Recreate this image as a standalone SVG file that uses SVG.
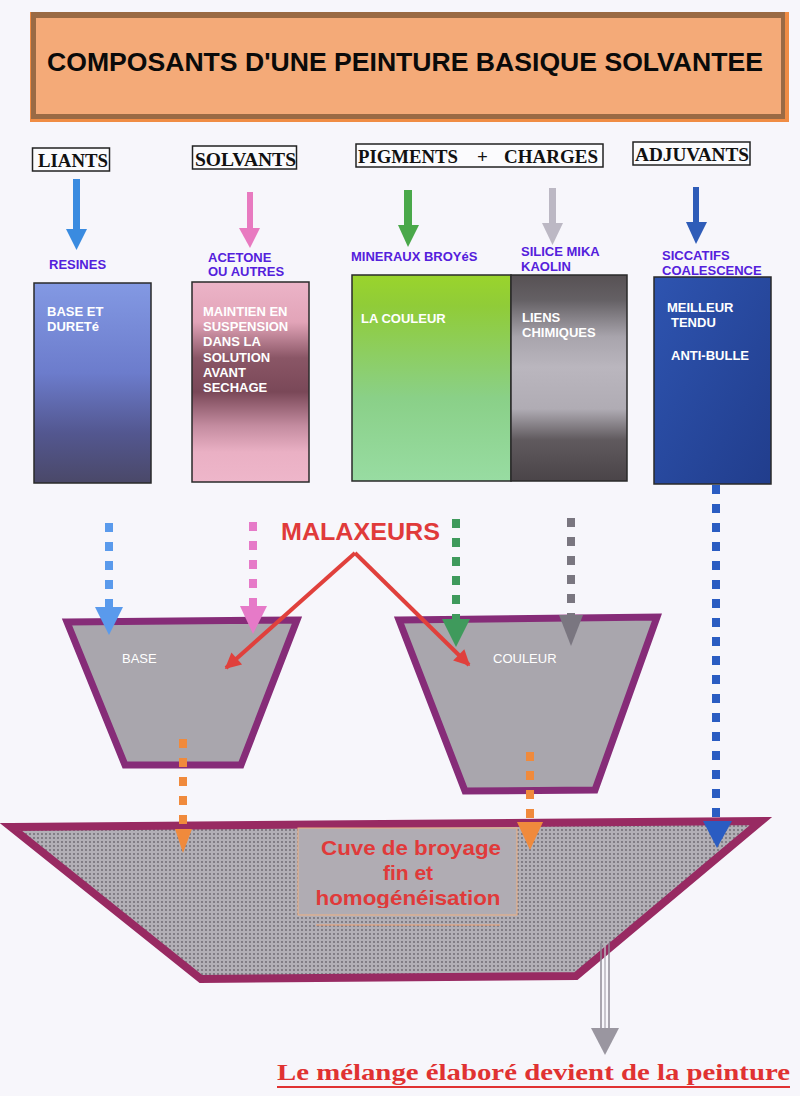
<svg xmlns="http://www.w3.org/2000/svg" width="800" height="1096" viewBox="0 0 800 1096">
<style>
.hdr{font-family:"Liberation Serif","Times New Roman",serif;font-weight:bold;font-size:19px;fill:#111}
.hbox{fill:#fbfbfd;stroke:#222;stroke-width:1.5}
.lbl{font-family:"Liberation Sans",Arial,sans-serif;font-weight:bold;font-size:13px;fill:#5420dc}
.inb{font-family:"Liberation Sans",Arial,sans-serif;font-weight:bold;font-size:13px;fill:#fff}
.box{stroke:#2a2a2a;stroke-width:1.5}
.mix{fill:#a9a6ad;stroke:#862c78;stroke-width:7;stroke-linejoin:miter}
.mixt{font-family:"Liberation Sans",Arial,sans-serif;font-size:13px;fill:#fff}
.dash{fill:none;stroke-width:8;stroke-dasharray:9 10}
.red{fill:none;stroke:#e0403c;stroke-width:4}
.cuvt{font-family:"Liberation Sans",Arial,sans-serif;font-weight:bold;font-size:21px;fill:#e03a3a;text-anchor:middle}
</style>
<defs>
<linearGradient id="gBlue" x1="0" y1="0" x2="0" y2="1">
<stop offset="0" stop-color="#8399e3"/><stop offset="0.45" stop-color="#6c7ccc"/><stop offset="0.75" stop-color="#535790"/><stop offset="1" stop-color="#4a4868"/>
</linearGradient>
<linearGradient id="gPink" x1="0" y1="0" x2="0" y2="1">
<stop offset="0" stop-color="#ecb4c8"/><stop offset="0.2" stop-color="#e2a4b8"/><stop offset="0.38" stop-color="#8a5666"/><stop offset="0.55" stop-color="#7a4858"/><stop offset="0.72" stop-color="#c48ca0"/><stop offset="0.85" stop-color="#eab0c4"/><stop offset="1" stop-color="#eeb6ca"/>
</linearGradient>
<linearGradient id="gGreen" x1="0" y1="0" x2="0" y2="1">
<stop offset="0" stop-color="#9ad42c"/><stop offset="0.15" stop-color="#90cc38"/><stop offset="0.6" stop-color="#8ad088"/><stop offset="1" stop-color="#98dca2"/>
</linearGradient>
<linearGradient id="gGrey" x1="0" y1="0" x2="0" y2="1">
<stop offset="0" stop-color="#575154"/><stop offset="0.12" stop-color="#646064"/><stop offset="0.3" stop-color="#a8a4ac"/><stop offset="0.45" stop-color="#bab6be"/><stop offset="0.65" stop-color="#b0acb4"/><stop offset="0.8" stop-color="#605a5e"/><stop offset="1" stop-color="#4a4448"/>
</linearGradient>
<linearGradient id="gDark" x1="0" y1="0" x2="1" y2="1">
<stop offset="0" stop-color="#2e54b0"/><stop offset="1" stop-color="#213d8c"/>
</linearGradient>
<pattern id="dots" width="4" height="4" patternUnits="userSpaceOnUse">
<rect width="4" height="4" fill="#b2afb6"/>
<circle cx="2" cy="2" r="0.9" fill="#6a666e"/>
</pattern>
<marker id="ar" viewBox="0 0 10 10" refX="9" refY="5" markerWidth="18" markerHeight="16" markerUnits="userSpaceOnUse" orient="auto">
<path d="M0,0 L10,5 L0,10 z" fill="#e0403c"/>
</marker>
<clipPath id="cl"><rect x="298" y="828" width="220" height="80"/></clipPath>
</defs>
<rect width="800" height="1096" fill="#f7f6fb"/>

<g id="title">
<rect x="30" y="12" width="759" height="110" fill="#f08c44"/>
<rect x="31" y="12" width="754" height="107" fill="#9a6a44"/>
<rect x="36" y="18" width="745" height="96" fill="#f4aa78"/>
<text x="47" y="71" font-family="'Liberation Sans',Arial,sans-serif" font-weight="bold" font-size="25" fill="#0a0a0a" textLength="716" lengthAdjust="spacingAndGlyphs">COMPOSANTS D'UNE PEINTURE BASIQUE SOLVANTEE</text>
</g>

<g id="liants">
<rect class="hbox" x="32.5" y="148" width="77" height="23"/>
<text class="hdr" x="38" y="167" textLength="70" lengthAdjust="spacingAndGlyphs">LIANTS</text>
</g>
<g id="solvants">
<rect class="hbox" x="192.5" y="146" width="104" height="23"/>
<text class="hdr" x="195" y="166" textLength="101" lengthAdjust="spacingAndGlyphs">SOLVANTS</text>
</g>
<g id="pigments">
<rect class="hbox" x="356" y="144" width="247" height="23"/>
<text class="hdr" x="358" y="163" textLength="100" lengthAdjust="spacingAndGlyphs">PIGMENTS</text>
<text class="hdr" x="477" y="163">+</text>
<text class="hdr" x="504" y="163" textLength="94" lengthAdjust="spacingAndGlyphs">CHARGES</text>
</g>
<g id="adjuvants">
<rect class="hbox" x="633" y="142" width="117" height="23"/>
<text class="hdr" x="635" y="161" textLength="114" lengthAdjust="spacingAndGlyphs">ADJUVANTS</text>
</g>

<g id="resines">
<text class="lbl" x="49" y="269">RESINES</text>
<rect class="box" x="34" y="283" width="117" height="200" fill="url(#gBlue)"/>
<text class="inb" x="47" y="316">BASE ET</text>
<text class="inb" x="47" y="331">DURETé</text>
</g>
<g id="acetone">
<text class="lbl" x="208" y="262">ACETONE</text>
<text class="lbl" x="208" y="276">OU AUTRES</text>
<rect class="box" x="192" y="282" width="117" height="200" fill="url(#gPink)"/>
<text class="inb" x="203" y="316">MAINTIEN EN</text>
<text class="inb" x="203" y="331">SUSPENSION</text>
<text class="inb" x="203" y="346">DANS LA</text>
<text class="inb" x="203" y="362">SOLUTION</text>
<text class="inb" x="203" y="377">AVANT</text>
<text class="inb" x="203" y="392">SECHAGE</text>
</g>
<g id="mineraux">
<text class="lbl" x="351" y="261">MINERAUX BROYéS</text>
<rect class="box" x="352" y="275" width="159" height="206" fill="url(#gGreen)"/>
<text class="inb" x="361" y="323">LA COULEUR</text>
</g>
<g id="silice">
<text class="lbl" x="521" y="256">SILICE MIKA</text>
<text class="lbl" x="521" y="271">KAOLIN</text>
<rect class="box" x="511" y="275" width="116" height="206" fill="url(#gGrey)"/>
<text class="inb" x="522" y="322">LIENS</text>
<text class="inb" x="522" y="337">CHIMIQUES</text>
</g>
<g id="siccatifs">
<text class="lbl" x="662" y="260">SICCATIFS</text>
<text class="lbl" x="662" y="275">COALESCENCE</text>
<rect class="box" x="654" y="277" width="117" height="207" fill="url(#gDark)"/>
<text class="inb" x="667" y="312">MEILLEUR</text>
<text class="inb" x="671" y="327">TENDU</text>
<text class="inb" x="671" y="360">ANTI-BULLE</text>
</g>

<g id="mixer-base">
<polygon class="mix" points="67,622 297,620 241,765 125,765"/>
<text class="mixt" x="122" y="663">BASE</text>
</g>
<g id="mixer-couleur">
<polygon class="mix" points="399,620 657,617 595,790 465,791"/>
<text class="mixt" x="493" y="663">COULEUR</text>
</g>

<g id="cuve">
<polygon points="11,827 761,821 576,976 201,979" fill="url(#dots)" stroke="#982a62" stroke-width="8"/>
<rect x="298" y="828" width="219" height="87" fill="#b0acb3" stroke="#f0b080" stroke-width="1"/>
<g clip-path="url(#cl)">
<text class="cuvt" x="411" y="855" textLength="180" lengthAdjust="spacingAndGlyphs">Cuve de broyage</text>
<text class="cuvt" x="408" y="880">fin et</text>
<text class="cuvt" x="408" y="905" textLength="185" lengthAdjust="spacingAndGlyphs">homogénéisation</text>
</g>
<line x1="316" y1="925" x2="500" y2="925" stroke="#f0a070" stroke-width="1"/>
</g>

<g id="malaxeurs">
<text x="281" y="540" font-family="'Liberation Sans',Arial,sans-serif" font-weight="bold" font-size="24" fill="#e03a3a" textLength="159" lengthAdjust="spacingAndGlyphs">MALAXEURS</text>
</g>

<g id="conclusion">
<text x="277" y="1080" font-family="'Liberation Serif','Times New Roman',serif" font-weight="bold" font-size="24" fill="#e03232" textLength="513" lengthAdjust="spacingAndGlyphs">Le mélange élaboré devient de la peinture</text>
<line x1="277" y1="1087" x2="790" y2="1087" stroke="#e03232" stroke-width="2"/>
</g>

<g id="connectors">
<rect x="73" y="179" width="7" height="52" fill="#3a8be0"/><polygon points="66,229 87,229 76.5,250" fill="#3a8be0"/>
<rect x="247" y="192" width="6" height="38" fill="#e87ac0"/><polygon points="239,228 260,228 250,248" fill="#e87ac0"/>
<rect x="404" y="190" width="8" height="37" fill="#4aa84a"/><polygon points="398,225 419,225 408,247" fill="#4aa84a"/>
<rect x="549" y="188" width="7" height="37" fill="#bcb8c4"/><polygon points="542,223 563,223 552.5,245" fill="#bcb8c4"/>
<rect x="693" y="187" width="6" height="37" fill="#2f5cb8"/><polygon points="686,222 707,222 696,244" fill="#2f5cb8"/>

<line class="dash" x1="109" y1="523" x2="109" y2="608" stroke="#5a9aec"/><polygon points="95,607 123,607 109,635" fill="#5a9aec"/>
<line class="dash" x1="253" y1="522" x2="253" y2="608" stroke="#e67ac8"/><polygon points="240,606 267,606 253,634" fill="#e67ac8"/>
<line class="dash" x1="456" y1="519" x2="456" y2="620" stroke="#3f9a5c"/><polygon points="442,619 470,619 456,647" fill="#3f9a5c"/>
<line class="dash" x1="571" y1="518" x2="571" y2="616" stroke="#7a7680"/><polygon points="559,615 583,615 571,646" fill="#7a7680"/>

<line class="dash" x1="716" y1="485" x2="716" y2="822" stroke="#2a5cc2"/><polygon points="703,821 732,821 717,848" fill="#2a5cc2"/>

<line class="dash" x1="183" y1="739" x2="183" y2="830" stroke="#f08a3c" stroke-width="6"/><polygon points="175,829 192,829 183,853" fill="#f08a3c"/>
<line class="dash" x1="530" y1="752" x2="530" y2="824" stroke="#f08a3c" stroke-width="7"/><polygon points="517,822 543,822 530,850" fill="#f08a3c"/>

<line class="red" x1="355" y1="553" x2="226" y2="668" marker-end="url(#ar)"/>
<line class="red" x1="355" y1="553" x2="469" y2="665" marker-end="url(#ar)"/>

<line x1="601" y1="943" x2="601" y2="1029" stroke="#8f8a96" stroke-width="1.5"/>
<line x1="605" y1="943" x2="605" y2="1029" stroke="#b8b4be" stroke-width="1.5"/>
<line x1="609" y1="943" x2="609" y2="1029" stroke="#8f8a96" stroke-width="1.5"/>
<polygon points="591,1028 619,1028 605,1055" fill="#9a96a0"/>
</g>
</svg>
